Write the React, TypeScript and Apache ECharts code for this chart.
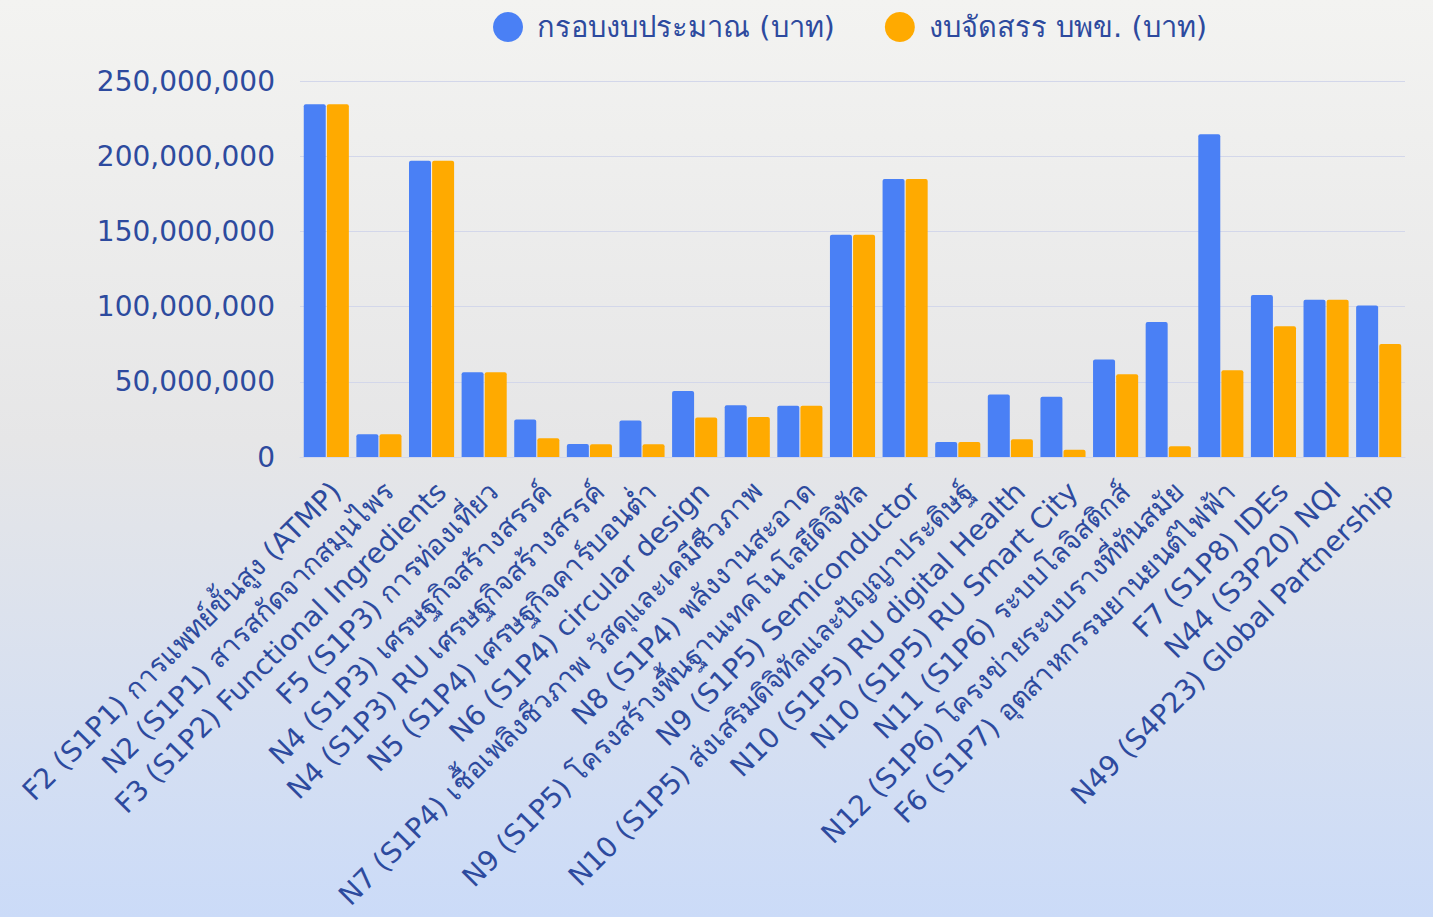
import React, { useEffect, useRef } from "react";
import * as echarts from "echarts";

const categories: string[] = [
  "F2 (S1P1) การแพทย์ขั้นสูง (ATMP)",
  "N2 (S1P1) สารสกัดจากสมุนไพร",
  "F3 (S1P2) Functional Ingredients",
  "F5 (S1P3) การท่องเที่ยว",
  "N4 (S1P3) เศรษฐกิจสร้างสรรค์",
  "N4 (S1P3) RU เศรษฐกิจสร้างสรรค์",
  "N5 (S1P4) เศรษฐกิจคาร์บอนต่ำ",
  "N6 (S1P4) circular design",
  "N7 (S1P4) เชื้อเพลิงชีวภาพ วัสดุและเคมีชีวภาพ",
  "N8 (S1P4) พลังงานสะอาด",
  "N9 (S1P5) โครงสร้างพื้นฐานเทคโนโลยีดิจิทัล",
  "N9 (S1P5) Semiconductor",
  "N10 (S1P5) ส่งเสริมดิจิทัลและปัญญาประดิษฐ์",
  "N10 (S1P5) RU digital Health",
  "N10 (S1P5) RU Smart City",
  "N11 (S1P6) ระบบโลจิสติกส์",
  "N12 (S1P6) โครงข่ายระบบรางที่ทันสมัย",
  "F6 (S1P7) อุตสาหกรรมยานยนต์ไฟฟ้า",
  "F7 (S1P8) IDEs",
  "N44 (S3P20) NQI",
  "N49 (S4P23) Global Partnership",
];

const seriesNames: string[] = ["กรอบงบประมาณ (บาท)", "งบจัดสรร บพข. (บาท)"];

// values in baht
const budgetFrame: number[] = [
  234600000, 15100000, 196900000, 56400000, 24900000, 8700000, 24200000,
  43900000, 34400000, 34000000, 147800000, 184900000, 10000000, 41500000,
  40000000, 64800000, 89700000, 214600000, 107700000, 104500000, 100800000,
];

const allocated: number[] = [
  234600000, 15100000, 196900000, 56400000, 12400000, 8500000, 8500000,
  26200000, 26600000, 34000000, 147800000, 184900000, 10000000, 11800000,
  4900000, 55100000, 7100000, 57700000, 87000000, 104500000, 75200000,
];

const yTicks = { min: 0, max: 250000000, interval: 50000000 };

const TEXT = "#2d4a9e";
const FONT = "'DejaVu Sans', 'Noto Sans', sans-serif";

export default function App() {
  const ref = useRef<HTMLDivElement>(null);

  useEffect(() => {
    document.body.style.margin = "0";
    if (!ref.current) return;
    const chart = echarts.init(ref.current, undefined, { renderer: "svg" });
    chart.setOption({
      animation: false,
      backgroundColor: new echarts.graphic.LinearGradient(0, 0, 0, 1, [
        { offset: 0, color: "#f3f3f1" },
        { offset: 0.48, color: "#e6e6e7" },
        { offset: 1, color: "#cbdbf8" },
      ]),
      textStyle: { fontFamily: FONT },
      legend: {
        top: 7,
        left: 488,
        icon: "circle",
        itemWidth: 30,
        itemHeight: 30,
        itemGap: 50,
        textStyle: {
          color: TEXT,
          fontSize: 29,
          fontFamily: FONT,
          padding: [0, 0, 0, 9],
        },
        data: seriesNames,
      },
      grid: { left: 300, right: 28, top: 81, bottom: 460 },
      xAxis: {
        type: "category",
        data: categories,
        axisTick: { show: false },
        axisLine: { show: true, lineStyle: { color: "#d3d7ea" } },
        axisLabel: {
          rotate: 45,
          interval: 0,
          color: TEXT,
          fontSize: 28,
          fontFamily: FONT,
          margin: 20,
          verticalAlign: "top",
        },
      },
      yAxis: {
        type: "value",
        min: yTicks.min,
        max: yTicks.max,
        interval: yTicks.interval,
        axisLine: { show: false },
        axisTick: { show: false },
        splitLine: { lineStyle: { color: "#d3d7ea", width: 1 } },
        axisLabel: {
          color: TEXT,
          fontSize: 28,
          fontFamily: FONT,
          margin: 25,
          formatter: (v: number) => v.toLocaleString("en-US"),
        },
      },
      series: [
        {
          name: seriesNames[0],
          type: "bar",
          data: budgetFrame,
          barWidth: 22,
          barGap: "5%",
          itemStyle: { color: "#4a80f5", borderRadius: [2, 2, 0, 0] },
        },
        {
          name: seriesNames[1],
          type: "bar",
          data: allocated,
          barWidth: 22,
          itemStyle: { color: "#ffaa00", borderRadius: [2, 2, 0, 0] },
        },
      ],
    });
    return () => chart.dispose();
  }, []);

  return <div ref={ref} style={{ width: 1433, height: 917 }} />;
}
